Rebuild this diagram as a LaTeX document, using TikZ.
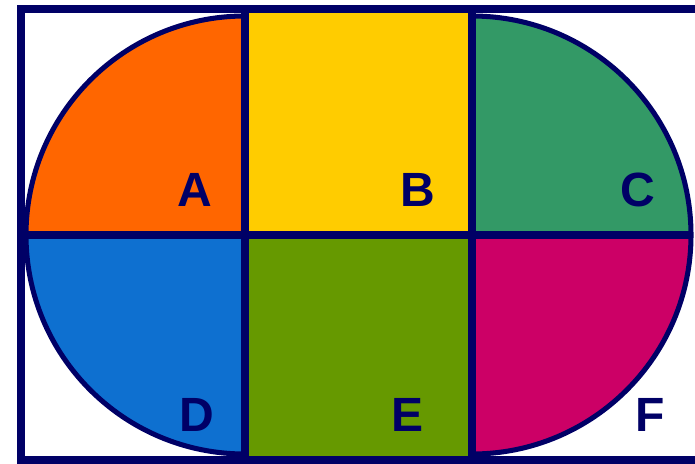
\documentclass[tikz,border=0pt]{standalone}
\usepackage{fontspec}
\setmainfont{Liberation Sans}
\definecolor{partnavy}{RGB}{0,0,102}
\definecolor{partorange}{RGB}{255,102,0}
\definecolor{partyellow}{RGB}{255,204,0}
\definecolor{partgreen}{RGB}{51,153,102}
\definecolor{partblue}{RGB}{14,112,208}
\definecolor{partolive}{RGB}{102,153,0}
\definecolor{partmagenta}{RGB}{204,0,102}
\tikzset{
  divider/.style={draw=partnavy, line width=6.8pt},
  rim/.style={draw=partnavy, line width=4.3pt},
  letter/.style={text=partnavy, font=\fontsize{41}{41}\selectfont\bfseries}
}

\begin{document}
\begin{tikzpicture}[x=0.03cm, y=0.03cm]
        \useasboundingbox (0,0) rectangle (695,463);
        % the six parts
        \fill [partorange] (245,228) -- (26,228) arc (180:90:6.57cm) -- cycle;
        \fill [partyellow] (245,228) rectangle (472,454);
        \fill [partgreen] (472,228) -- (472,447) arc (90:0:6.57cm) -- cycle;
        \fill [partblue] (245,228) -- (245,9) arc (270:180:6.57cm) -- cycle;
        \fill [partolive] (245,3) rectangle (472,228);
        \fill [partmagenta] (472,228) -- (691,228) arc (0:-90:6.57cm) -- cycle;
        
        % round ends
        \draw [rim] (245,447) arc (90:270:6.57cm);
        \draw [rim] (472,447) arc (90:-90:6.57cm);
        
        % cross lines and frame
        \draw [divider] (245,454) -- (245,3);
        \draw [divider] (472,454) -- (472,3);
        \draw [divider] (21,228) -- (692,228);
        \draw [divider] (21,3) rectangle (699,454);
        
        \node [letter] (a) at (195,273) {A};
        \node [letter] (b) at (418,273) {B};
        \node [letter] (c) at (638,273) {C};
        \node [letter] (d) at (197,48) {D};
        \node [letter] (e) at (408,48) {E};
        \node [letter] (f) at (650,48) {F};
    \end{tikzpicture}
\end{document}
